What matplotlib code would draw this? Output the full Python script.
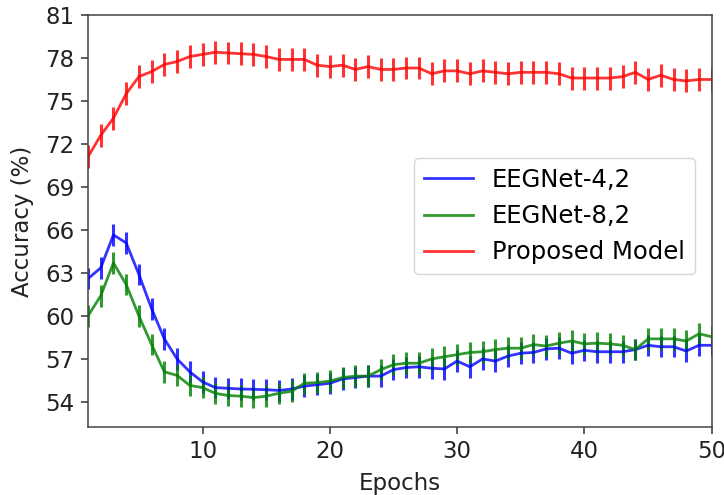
import matplotlib
matplotlib.use("Agg")
import matplotlib.pyplot as plt
from matplotlib.lines import Line2D

epochs = list(range(1, 51))

eegnet_4_2 = [62.6, 63.35, 65.65, 65.1, 62.9, 60.5, 58.4, 57.0, 56.1, 55.4,
              55.0, 54.95, 54.9, 54.88, 54.85, 54.8, 54.9, 55.1, 55.2, 55.3,
              55.6, 55.7, 55.8, 55.8, 56.25, 56.4, 56.45, 56.35, 56.3, 56.85,
              56.45, 57.0, 56.85, 57.2, 57.4, 57.45, 57.7, 57.75, 57.4, 57.6,
              57.5, 57.5, 57.5, 57.65, 57.95, 57.85, 57.85, 57.55, 57.95, 57.95]

eegnet_8_2 = [60.0, 61.4, 63.7, 62.2, 60.0, 58.0, 56.1, 55.85, 55.15, 55.0,
              54.6, 54.45, 54.4, 54.3, 54.4, 54.6, 54.75, 55.3, 55.35, 55.45,
              55.7, 55.8, 55.8, 56.25, 56.6, 56.7, 56.7, 57.0, 57.15, 57.3,
              57.45, 57.5, 57.65, 57.75, 57.75, 58.0, 57.9, 58.1, 58.25, 58.05,
              58.1, 58.05, 57.95, 57.65, 58.4, 58.4, 58.4, 58.25, 58.75, 58.55]

proposed = [71.1, 72.6, 73.8, 75.5, 76.7, 77.05, 77.55, 77.75, 78.1, 78.25,
            78.4, 78.35, 78.3, 78.25, 78.1, 77.9, 77.9, 77.9, 77.5, 77.4,
            77.5, 77.2, 77.4, 77.2, 77.2, 77.3, 77.3, 76.9, 77.1, 77.1,
            76.9, 77.1, 77.0, 76.9, 77.0, 77.0, 77.0, 76.9, 76.6, 76.6,
            76.6, 76.6, 76.7, 77.0, 76.5, 76.8, 76.5, 76.4, 76.5, 76.5]

err_4_2 = [0.75] * 50
err_8_2 = [0.75] * 50
err_prop = [0.8] * 50

series = [
    ("EEGNet-4,2", eegnet_4_2, err_4_2, "blue"),
    ("EEGNet-8,2", eegnet_8_2, err_8_2, "green"),
    ("Proposed Model", proposed, err_prop, "red"),
]

FS = 16.5

fig = plt.figure(figsize=(7.24, 4.95), dpi=100)
ax = fig.add_axes([0.1215, 0.1374, 0.8615, 0.8323])

for label, vals, err, col in series:
    ax.errorbar(epochs, vals, yerr=err, color=col, lw=2, elinewidth=2.2,
                capsize=0, alpha=0.8, label=label)

ax.set_xlim(1, 50)
ax.set_ylim(52.25, 81)
ax.set_yticks([54, 57, 60, 63, 66, 69, 72, 75, 78, 81])
ax.set_xticks([10, 20, 30, 40, 50])
ax.tick_params(labelsize=FS, colors="#333333", length=4.7, width=1.1, pad=5)
for lab in ax.get_xticklabels() + ax.get_yticklabels():
    lab.set_color("#222222")
for s in ax.spines.values():
    s.set_color("#444444")
    s.set_linewidth(1.1)
ax.set_xlabel("Epochs", fontsize=FS, color="#222222", labelpad=6)
ax.set_ylabel("Accuracy (%)", fontsize=FS, color="#222222", labelpad=8)

lh = [Line2D([], [], color=c, lw=2, alpha=0.8) for _, _, _, c in series]
ax.legend(lh, [s[0] for s in series], loc="center right", fontsize=17.5,
          bbox_to_anchor=(0.992, 0.512), framealpha=0.8, edgecolor="#cccccc",
          fancybox=True, handlelength=2.0)

fig.savefig("out.png", dpi=100)
